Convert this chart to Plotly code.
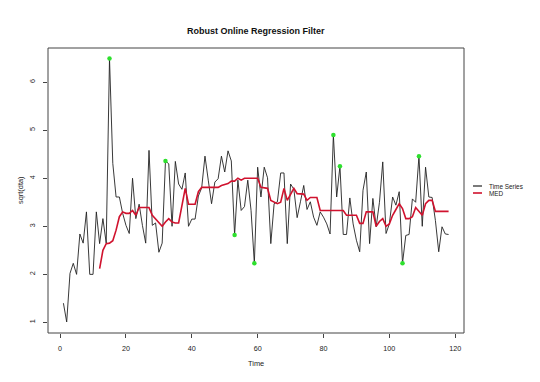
import plotly.graph_objects as go

# ---- data ----
time = list(range(1, 119))
series = [
    1.40, 1.01, 2.02, 2.23, 2.00, 2.84, 2.65, 3.30, 2.00, 2.00,
    3.30, 2.64, 3.16, 2.65, 6.49, 4.31, 3.61, 3.61, 3.27, 3.02,
    2.85, 4.00, 3.16, 3.46, 3.02, 2.65, 4.58, 3.02, 3.07, 2.46,
    2.65, 4.36, 4.30, 3.00, 4.35, 3.88, 3.77, 4.11, 3.00, 3.15,
    3.15, 3.63, 3.80, 4.46, 3.96, 3.47, 3.92, 3.99, 4.46, 4.13,
    4.57, 4.36, 2.82, 3.96, 3.33, 3.41, 3.96, 3.33, 2.23, 4.23,
    3.61, 4.23, 4.01, 2.64, 3.47, 3.51, 4.11, 4.11, 2.64, 3.88,
    3.77, 3.18, 3.51, 3.85, 3.35, 3.51, 3.19, 3.02, 3.30, 3.19,
    3.05, 2.84, 4.90, 3.61, 4.25, 2.83, 2.83, 3.59, 3.05, 2.71,
    2.47, 3.75, 4.13, 2.64, 3.58, 2.99, 3.50, 4.34, 2.85, 3.05,
    3.61, 3.44, 3.72, 2.23, 2.81, 2.83, 3.57, 3.50, 4.46, 3.00,
    4.23, 3.61, 3.60, 3.12, 2.47, 2.99, 2.84, 2.83,
]
med_time = list(range(12, 119))
med = [
    2.12, 2.50, 2.64, 2.65, 2.70, 2.92, 3.20, 3.30, 3.27, 3.27,
    3.33, 3.23, 3.39, 3.39, 3.39, 3.39, 3.23, 3.16, 3.09, 3.00,
    3.09, 3.16, 3.09, 3.07, 3.07, 3.40, 3.79, 3.46, 3.46, 3.46,
    3.72, 3.81, 3.81, 3.81, 3.81, 3.81, 3.81, 3.85, 3.87, 3.89,
    3.94, 3.94, 4.00, 3.96, 4.00, 4.00, 4.00, 4.00, 4.00, 3.81,
    3.80, 3.79, 3.54, 3.50, 3.47, 3.50, 3.79, 3.54, 3.68, 3.79,
    3.68, 3.67, 3.67, 3.54, 3.60, 3.60, 3.60, 3.33, 3.33, 3.33,
    3.33, 3.33, 3.33, 3.33, 3.33, 3.23, 3.23, 3.23, 3.23, 3.06,
    3.06, 3.30, 3.30, 3.30, 3.00, 3.10, 3.16, 3.00, 3.05, 3.23,
    3.35, 3.47, 3.37, 3.16, 3.16, 3.20, 3.39, 3.30, 3.23, 3.47,
    3.54, 3.54, 3.31, 3.31, 3.31, 3.31, 3.31,
]
outlier_time = [15, 32, 53, 59, 83, 85, 104, 109]
outlier_vals = [series[t - 1] for t in outlier_time]

x_ticks = [0, 20, 40, 60, 80, 100, 120]
y_ticks = [1, 2, 3, 4, 5, 6]
legend_labels = ["Time Series", "MED"]
legend_colors = ["#222222", "#D0122E"]

FONT = "Liberation Sans, Arial, sans-serif"

fig = go.Figure()
fig.add_trace(go.Scatter(x=time, y=series, mode="lines",
                         line=dict(color="#222222", width=0.9),
                         name=legend_labels[0], hoverinfo="skip"))
fig.add_trace(go.Scatter(x=med_time, y=med, mode="lines",
                         line=dict(color=legend_colors[1], width=1.6),
                         name=legend_labels[1], hoverinfo="skip"))
fig.add_trace(go.Scatter(x=outlier_time, y=outlier_vals, mode="markers",
                         marker=dict(color="#2EE02E", size=4.5, line=dict(width=0)),
                         name="outliers", hoverinfo="skip"))

fig.update_layout(
    width=540, height=382,
    margin=dict(l=48, r=76, t=48, b=49, pad=0),
    paper_bgcolor="white", plot_bgcolor="white",
    showlegend=False,
    font=dict(family=FONT, size=7.2, color="#222222"),
)
fig.update_xaxes(range=[-3.68, 122.68], tickvals=x_ticks, ticktext=[str(v) for v in x_ticks],
                 ticks="outside", ticklen=4, tickcolor="#444444", tickwidth=1,
                 showgrid=False, zeroline=False, showline=False,
                 ticklabelstandoff=4, tickfont=dict(size=7.2, color="#222222"))
fig.update_yaxes(range=[0.78, 6.71], tickvals=y_ticks, ticktext=[str(v) for v in y_ticks],
                 ticks="outside", ticklen=4, tickcolor="#444444", tickwidth=1,
                 showgrid=False, zeroline=False, showline=False, tickangle=-90,
                 ticklabelstandoff=5, tickfont=dict(size=7.2, color="#222222"))

# plot box
fig.add_shape(type="rect", xref="paper", yref="paper", x0=0, y0=0, x1=1, y1=1,
              line=dict(color="#444444", width=1), fillcolor="rgba(0,0,0,0)", layer="above")

annotations = [
    dict(text="<b>Robust Online Regression Filter</b>", xref="paper", yref="paper",
         x=0.5, y=1, yshift=17, xanchor="center", yanchor="middle", showarrow=False,
         font=dict(size=9, color="#111111", family=FONT)),
    dict(text="Time", xref="paper", yref="paper", x=0.5, y=0, yshift=-30,
         xanchor="center", yanchor="middle", showarrow=False,
         font=dict(size=7.4, color="#222222", family=FONT)),
    dict(text="sqrt(dta)", xref="paper", yref="paper", x=0, y=0.5, xshift=-27.5,
         xanchor="center", yanchor="middle", textangle=-90, showarrow=False,
         font=dict(size=7.4, color="#222222", family=FONT)),
]
# manual legend outside plot box
box_w, box_h = 416.0, 285.0
leg_y_px = [186, 193]
for lab, col, py in zip(legend_labels, legend_colors, leg_y_px):
    yy = (333 - py) / box_h
    fig.add_shape(type="line", xref="paper", yref="paper",
                  x0=(473 - 48) / box_w, x1=(482 - 48) / box_w, y0=yy, y1=yy,
                  line=dict(color=col, width=1.2 if col == legend_colors[0] else 1.6))
    annotations.append(dict(text=lab, xref="paper", yref="paper",
                            x=(487 - 48) / box_w, y=yy, xanchor="left", yanchor="middle",
                            showarrow=False, font=dict(size=6.4, color="#222222", family=FONT)))
fig.update_layout(annotations=annotations)

fig.write_html("out.html", config={"displayModeBar": False},
               post_script="document.body.style.margin='0';document.body.style.padding='0';")
